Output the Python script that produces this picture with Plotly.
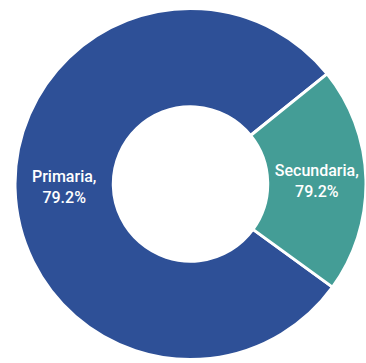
import plotly.graph_objects as go

# Share of enrolment by level
levels = ["Primaria", "Secundaria"]
shares = [79.2, 20.8]
shown_pct = ["79.2%", "79.2%"]
colors = ["#2E5097", "#449D96"]

text_labels = [f"{lv},<br>{p}" for lv, p in zip(levels, shown_pct)]

fig = go.Figure(
    go.Pie(
        labels=levels,
        values=shares,
        text=text_labels,
        texttemplate="%{text}",
        textposition="inside",
        insidetextorientation="horizontal",
        hole=0.44,
        sort=False,
        direction="clockwise",
        rotation=126,
        marker=dict(colors=colors, line=dict(color="white", width=3)),
        textfont=dict(family="Roboto", size=16, color="white", weight=500),
        hoverinfo="label+percent",
        domain=dict(x=[15 / 366, 1], y=[3.5 / 363, 354.5 / 363]),
    )
)

fig.update_layout(
    width=366,
    height=363,
    margin=dict(l=0, r=0, t=0, b=0),
    showlegend=False,
    paper_bgcolor="white",
    plot_bgcolor="white",
    uniformtext=dict(minsize=10, mode=False),
)

fig.write_html("out.html")
